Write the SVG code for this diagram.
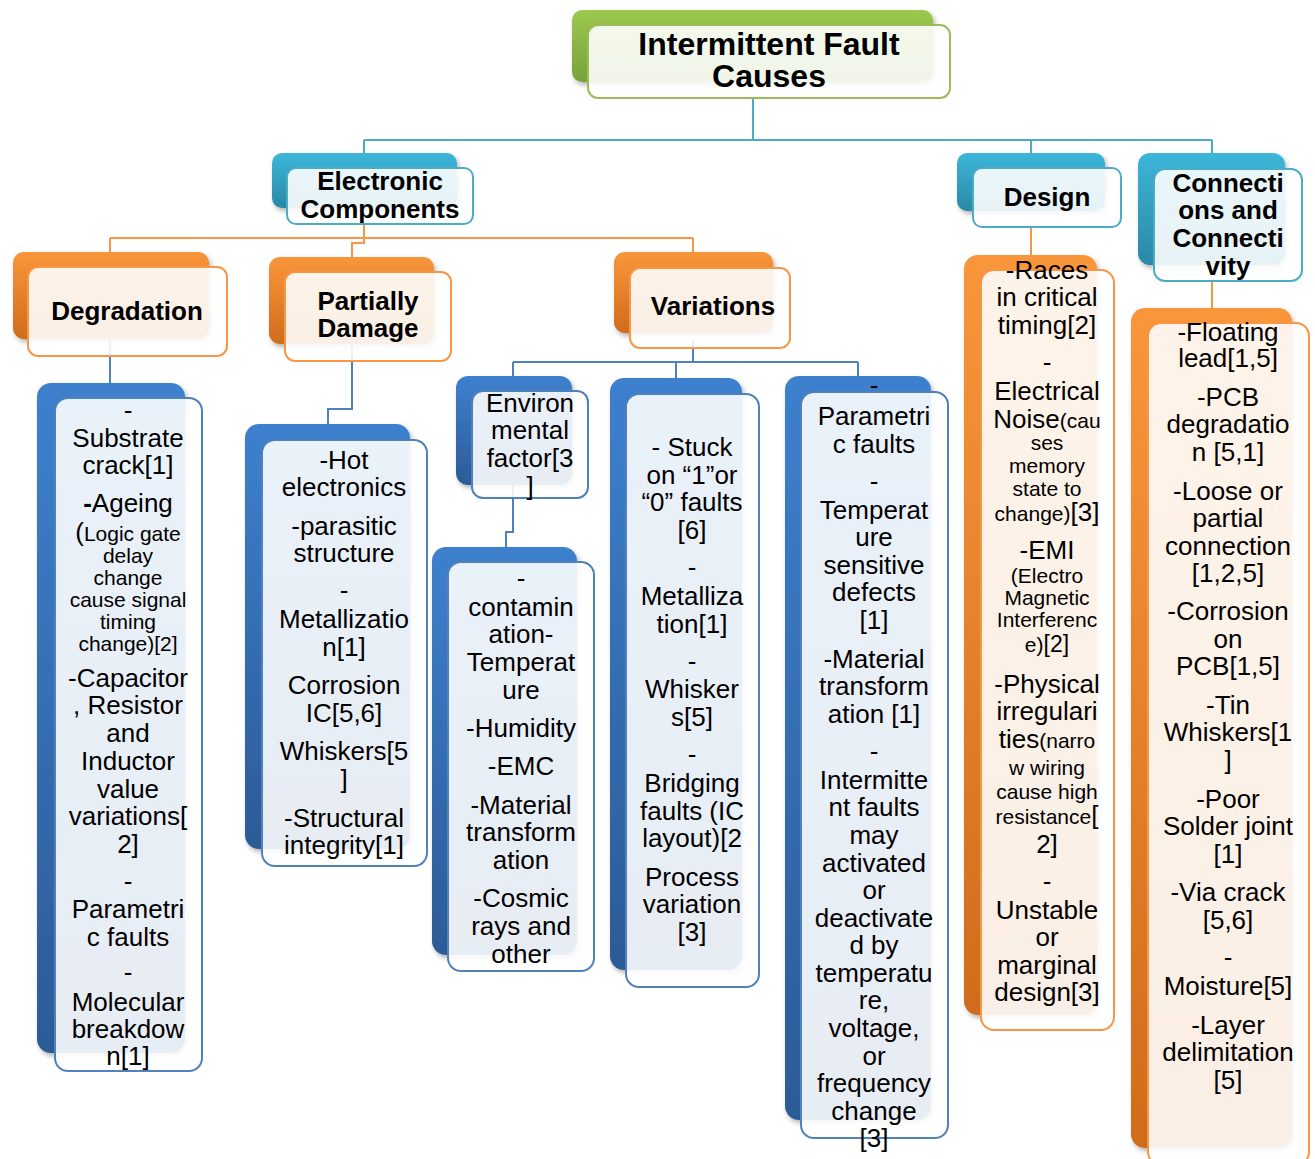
<svg xmlns="http://www.w3.org/2000/svg" width="1315" height="1159" viewBox="0 0 1315 1159">
<defs>
<linearGradient id="gB" x1="0" y1="0" x2="0" y2="1"><stop offset="0" stop-color="#3E80CE"/><stop offset="1" stop-color="#2C5B97"/></linearGradient>
<linearGradient id="gO" x1="0" y1="0" x2="0" y2="1"><stop offset="0" stop-color="#F9963B"/><stop offset="1" stop-color="#CF6C1C"/></linearGradient>
<linearGradient id="gT" x1="0" y1="0" x2="0" y2="1"><stop offset="0" stop-color="#3CB6D9"/><stop offset="1" stop-color="#2A88A5"/></linearGradient>
<linearGradient id="gG" x1="0" y1="0" x2="0" y2="1"><stop offset="0" stop-color="#9DC84F"/><stop offset="1" stop-color="#76A23A"/></linearGradient>
<filter id="sh" x="-10%" y="-10%" width="130%" height="130%"><feDropShadow dx="2" dy="3" stdDeviation="2.5" flood-color="#000" flood-opacity="0.3"/></filter>
</defs>
<style>
.bk{filter:url(#sh)}
.fr{fill:#fff;fill-opacity:0.89;stroke-width:2}
.fB{stroke:#4F81BD}.fO{stroke:#F79646}.fT{stroke:#4BACC6}.fG{stroke:#9BBB59}
.t{font-family:"Liberation Sans",Arial,sans-serif;font-size:26px;text-anchor:middle;fill:#000}
.b{font-weight:bold}
.s{font-size:21px}
.c{fill:none;stroke-width:2}
.cT{stroke:#4BACC6}.cO{stroke:#F79646}.cB{stroke:#4F81BD}
</style>
<rect width="1315" height="1159" fill="#fff"/>
<g id="connectors">
<path class="c cT" d="M753 98V140M364 140H1212M364 140V153M1031 140V153M1212 140V153"/>
<path class="c cO" d="M364 224V238M110 238H693M110 238V252M364 238V243H352V257M693 238V252"/>
<path class="c cO" d="M1031 227V255M1212 281V308"/>
<path class="c cB" d="M110 340V383M352 345V409H328V424"/>
<path class="c cB" d="M693 340V362M513 362H858M513 362V376M676 362V378M858 362V376"/>
<path class="c cB" d="M513 480V532H506V547"/>
</g>
<g id="root">
<rect class="bk" x="572" y="10" width="361" height="72" rx="10" fill="url(#gG)"/>
<rect class="fr fG" x="588" y="25" width="362" height="73" rx="10"/>
<text class="t b" style="font-size:32px"><tspan x="769" y="55">Intermittent Fault</tspan><tspan x="769" y="87">Causes</tspan></text>
</g>
<g id="electronic">
<rect class="bk" x="272" y="153" width="185" height="55" rx="10" fill="url(#gT)"/>
<rect class="fr fT" x="287" y="168" width="186" height="56" rx="9"/>
<text class="t b"><tspan x="380" y="190">Electronic</tspan><tspan x="380" y="218">Components</tspan></text>
</g>
<g id="design">
<rect class="bk" x="957" y="153" width="148" height="58" rx="10" fill="url(#gT)"/>
<rect class="fr fT" x="973" y="168" width="148" height="59" rx="9"/>
<text class="t b"><tspan x="1047" y="206">Design</tspan></text>
</g>
<g id="connections">
<rect class="bk" x="1138" y="153" width="147" height="112" rx="12" fill="url(#gT)"/>
<rect class="fr fT" x="1154" y="169" width="148" height="112" rx="11"/>
<text class="t b"><tspan x="1228" y="192">Connecti</tspan><tspan x="1228" y="219">ons and</tspan><tspan x="1228" y="247">Connecti</tspan><tspan x="1228" y="275">vity</tspan></text>
</g>
<g id="degradation">
<rect class="bk" x="13" y="252" width="196" height="87" rx="11" fill="url(#gO)"/>
<rect class="fr fO" x="28" y="267" width="199" height="89" rx="10"/>
<text class="t b"><tspan x="127" y="320">Degradation</tspan></text>
</g>
<g id="partially">
<rect class="bk" x="269" y="257" width="165" height="87" rx="11" fill="url(#gO)"/>
<rect class="fr fO" x="285" y="272" width="166" height="89" rx="10"/>
<text class="t b"><tspan x="368" y="310">Partially</tspan><tspan x="368" y="337">Damage</tspan></text>
</g>
<g id="variations">
<rect class="bk" x="614" y="252" width="159" height="81" rx="11" fill="url(#gO)"/>
<rect class="fr fO" x="630" y="268" width="160" height="80" rx="10"/>
<text class="t b"><tspan x="713" y="315">Variations</tspan></text>
</g>
<g id="degradation-items">
<rect class="bk" x="37" y="383" width="148" height="670" rx="14" fill="url(#gB)"/>
<rect class="fr fB" x="55" y="398" width="147" height="673" rx="13"/>
<text class="t"><tspan x="128" y="419">-</tspan><tspan x="128" y="447">Substrate</tspan><tspan x="128" y="474">crack[1]</tspan><tspan x="128" y="512"><tspan class="b">-</tspan>Ageing</tspan><tspan x="128" y="541">(<tspan class="s">Logic gate</tspan></tspan><tspan class="s" x="128" y="563">delay</tspan><tspan class="s" x="128" y="585">change</tspan><tspan class="s" x="128" y="607">cause signal</tspan><tspan class="s" x="128" y="629">timing</tspan><tspan class="s" x="128" y="651">change)[2]</tspan><tspan x="128" y="687">-Capacitor</tspan><tspan x="128" y="714">, Resistor</tspan><tspan x="128" y="742">and</tspan><tspan x="128" y="770">Inductor</tspan><tspan x="128" y="798">value</tspan><tspan x="128" y="825">variations[</tspan><tspan x="128" y="853">2]</tspan><tspan x="128" y="890">-</tspan><tspan x="128" y="918">Parametri</tspan><tspan x="128" y="946">c faults</tspan><tspan x="128" y="981">-</tspan><tspan x="128" y="1011">Molecular</tspan><tspan x="128" y="1038">breakdow</tspan><tspan x="128" y="1065">n[1]</tspan></text>
</g>
<g id="partially-items">
<rect class="bk" x="245" y="424" width="165" height="425" rx="14" fill="url(#gB)"/>
<rect class="fr fB" x="262" y="440" width="165" height="426" rx="13"/>
<text class="t"><tspan x="344" y="469">-Hot</tspan><tspan x="344" y="496">electronics</tspan><tspan x="344" y="535">-parasitic</tspan><tspan x="344" y="562">structure</tspan><tspan x="344" y="599">-</tspan><tspan x="344" y="628">Metallizatio</tspan><tspan x="344" y="656">n[1]</tspan><tspan x="344" y="694">Corrosion</tspan><tspan x="344" y="722">IC[5,6]</tspan><tspan x="344" y="760">Whiskers[5</tspan><tspan x="344" y="788">]</tspan><tspan x="344" y="827">-Structural</tspan><tspan x="344" y="854">integrity[1]</tspan></text>
</g>
<g id="environmental">
<rect class="bk" x="456" y="376" width="116" height="109" rx="12" fill="url(#gB)"/>
<rect class="fr fB" x="472" y="391" width="116" height="107" rx="11"/>
<text class="t"><tspan x="530" y="412">Environ</tspan><tspan x="530" y="439">mental</tspan><tspan x="530" y="467">factor[3</tspan><tspan x="530" y="495">]</tspan></text>
</g>
<g id="environmental-items">
<rect class="bk" x="432" y="547" width="145" height="408" rx="14" fill="url(#gB)"/>
<rect class="fr fB" x="448" y="562" width="146" height="409" rx="13"/>
<text class="t"><tspan x="521" y="587">-</tspan><tspan x="521" y="616">contamin</tspan><tspan x="521" y="643">ation-</tspan><tspan x="521" y="671">Temperat</tspan><tspan x="521" y="699">ure</tspan><tspan x="521" y="737">-Humidity</tspan><tspan x="521" y="775">-EMC</tspan><tspan x="521" y="814">-Material</tspan><tspan x="521" y="841">transform</tspan><tspan x="521" y="869">ation</tspan><tspan x="521" y="907">-Cosmic</tspan><tspan x="521" y="935">rays and</tspan><tspan x="521" y="963">other</tspan></text>
</g>
<g id="stuck-items">
<rect class="bk" x="610" y="378" width="132" height="592" rx="14" fill="url(#gB)"/>
<rect class="fr fB" x="626" y="394" width="133" height="593" rx="13"/>
<text class="t"><tspan x="692" y="456">- Stuck</tspan><tspan x="692" y="484">on “1”or</tspan><tspan x="692" y="511">“0” faults</tspan><tspan x="692" y="539">[6]</tspan><tspan x="692" y="576">-</tspan><tspan x="692" y="605">Metalliza</tspan><tspan x="692" y="633">tion[1]</tspan><tspan x="692" y="670">-</tspan><tspan x="692" y="698">Whisker</tspan><tspan x="692" y="726">s[5]</tspan><tspan x="692" y="763">-</tspan><tspan x="692" y="792">Bridging</tspan><tspan x="692" y="820">faults (IC</tspan><tspan x="692" y="847">layout)[2</tspan><tspan x="692" y="886">Process</tspan><tspan x="692" y="913">variation</tspan><tspan x="692" y="941">[3]</tspan></text>
</g>
<g id="parametric-items">
<rect class="bk" x="785" y="376" width="146" height="744" rx="14" fill="url(#gB)"/>
<rect class="fr fB" x="801" y="392" width="147" height="746" rx="13"/>
<text class="t"><tspan x="874" y="394">-</tspan><tspan x="874" y="425">Parametri</tspan><tspan x="874" y="453">c faults</tspan><tspan x="874" y="490">-</tspan><tspan x="874" y="519">Temperat</tspan><tspan x="874" y="546">ure</tspan><tspan x="874" y="574">sensitive</tspan><tspan x="874" y="601">defects</tspan><tspan x="874" y="629">[1]</tspan><tspan x="874" y="668">-Material</tspan><tspan x="874" y="695">transform</tspan><tspan x="874" y="723">ation [1]</tspan><tspan x="874" y="760">-</tspan><tspan x="874" y="789">Intermitte</tspan><tspan x="874" y="816">nt faults</tspan><tspan x="874" y="844">may</tspan><tspan x="874" y="872">activated</tspan><tspan x="874" y="899">or</tspan><tspan x="874" y="927">deactivate</tspan><tspan x="874" y="954">d by</tspan><tspan x="874" y="982">temperatu</tspan><tspan x="874" y="1009">re,</tspan><tspan x="874" y="1037">voltage,</tspan><tspan x="874" y="1065">or</tspan><tspan x="874" y="1092">frequency</tspan><tspan x="874" y="1120">change</tspan><tspan x="874" y="1147">[3]</tspan></text>
</g>
<g id="design-items">
<rect class="bk" x="964" y="255" width="133" height="760" rx="14" fill="url(#gO)"/>
<rect class="fr fO" x="981" y="270" width="133" height="760" rx="13"/>
<text class="t"><tspan x="1047" y="279">-Races</tspan><tspan x="1047" y="306">in critical</tspan><tspan x="1047" y="334">timing[2]</tspan><tspan x="1047" y="371">-</tspan><tspan x="1047" y="400">Electrical</tspan><tspan x="1047" y="428">Noise<tspan class="s">(cau</tspan></tspan><tspan class="s" x="1047" y="450">ses</tspan><tspan class="s" x="1047" y="473">memory</tspan><tspan class="s" x="1047" y="496">state to</tspan><tspan x="1047" y="521"><tspan class="s">change)</tspan>[3]</tspan><tspan x="1047" y="559">-EMI</tspan><tspan class="s" x="1047" y="583">(Electro</tspan><tspan class="s" x="1047" y="605">Magnetic</tspan><tspan class="s" x="1047" y="627">Interferenc</tspan><tspan x="1047" y="652"><tspan class="s">e)</tspan><tspan style="font-size:23px">[2]</tspan></tspan><tspan x="1047" y="693">-Physical</tspan><tspan x="1047" y="720">irregulari</tspan><tspan x="1047" y="748">ties<tspan class="s">(narro</tspan></tspan><tspan class="s" x="1047" y="775">w wiring</tspan><tspan class="s" x="1047" y="799">cause high</tspan><tspan x="1047" y="824"><tspan class="s">resistance</tspan>[</tspan><tspan x="1047" y="853">2]</tspan><tspan x="1047" y="890">-</tspan><tspan x="1047" y="919">Unstable</tspan><tspan x="1047" y="946">or</tspan><tspan x="1047" y="974">marginal</tspan><tspan x="1047" y="1001">design[3]</tspan></text>
</g>
<g id="connections-items">
<rect class="bk" x="1131" y="308" width="161" height="840" rx="14" fill="url(#gO)"/>
<rect class="fr fO" x="1148" y="323" width="161" height="842" rx="13"/>
<text class="t"><tspan x="1228" y="341">-Floating</tspan><tspan x="1228" y="367">lead[1,5]</tspan><tspan x="1228" y="406">-PCB</tspan><tspan x="1228" y="433">degradatio</tspan><tspan x="1228" y="461">n [5,1]</tspan><tspan x="1228" y="500">-Loose or</tspan><tspan x="1228" y="527">partial</tspan><tspan x="1228" y="555">connection</tspan><tspan x="1228" y="582">[1,2,5]</tspan><tspan x="1228" y="620">-Corrosion</tspan><tspan x="1228" y="648">on</tspan><tspan x="1228" y="675">PCB[1,5]</tspan><tspan x="1228" y="714">-Tin</tspan><tspan x="1228" y="741">Whiskers[1</tspan><tspan x="1228" y="769">]</tspan><tspan x="1228" y="808">-Poor</tspan><tspan x="1228" y="835">Solder joint</tspan><tspan x="1228" y="863">[1]</tspan><tspan x="1228" y="901">-Via crack</tspan><tspan x="1228" y="929">[5,6]</tspan><tspan x="1228" y="966">-</tspan><tspan x="1228" y="995">Moisture[5]</tspan><tspan x="1228" y="1034">-Layer</tspan><tspan x="1228" y="1061">delimitation</tspan><tspan x="1228" y="1089">[5]</tspan></text>
</g>
</svg>
